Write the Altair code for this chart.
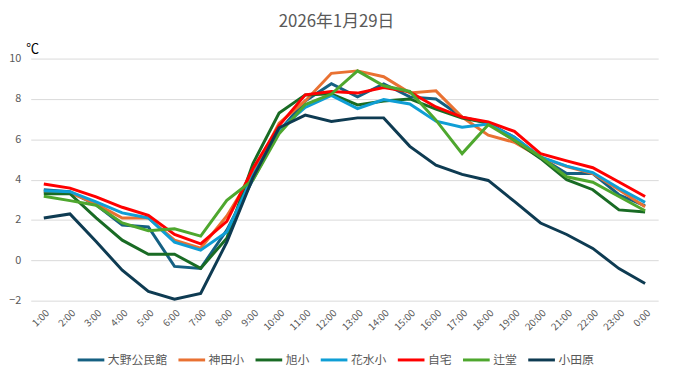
import altair as alt
import pandas as pd

hours = ["1:00", "2:00", "3:00", "4:00", "5:00", "6:00", "7:00", "8:00", "9:00", "10:00",
         "11:00", "12:00", "13:00", "14:00", "15:00", "16:00", "17:00", "18:00", "19:00",
         "20:00", "21:00", "22:00", "23:00", "0:00"]

series_names = ["大野公民館", "神田小", "旭小", "花水小", "自宅", "辻堂", "小田原"]
series_colors = ["#156082", "#E97132", "#196B24", "#0F9ED5", "#FF0000", "#4EA72E", "#0E3B52"]

ono = [3.5, 3.4, 2.75, 1.75, 1.65, -0.3, -0.4, 1.5, 4.0, 6.4, 7.9, 8.75, 8.1, 8.75, 8.1, 8.0,
       7.1, 6.8, 6.1, 5.1, 4.3, 4.3, 3.25, 2.7]
kanda = [3.4, 3.35, 2.8, 2.1, 2.1, 1.0, 0.6, 2.2, 4.3, 6.8, 7.9, 9.27, 9.39, 9.1, 8.3, 8.4,
         7.1, 6.2, 5.85, 5.1, 4.65, 4.3, 3.5, 2.65]
asahi = [3.3, 3.3, 2.1, 1.0, 0.3, 0.3, -0.4, 1.1, 4.8, 7.3, 8.2, 8.25, 7.7, 7.9, 8.0, 7.5,
         7.05, 6.8, 5.95, 5.05, 4.0, 3.5, 2.5, 2.4]
hanamizu = [3.45, 3.4, 2.9, 2.35, 2.1, 0.9, 0.5, 1.4, 4.2, 6.45, 7.58, 8.17, 7.52, 7.97, 7.75, 6.9,
            6.6, 6.75, 6.1, 5.13, 4.67, 4.35, 3.57, 2.87]
jitaku = [3.78, 3.58, 3.15, 2.63, 2.23, 1.28, 0.82, 1.93, 4.55, 6.68, 8.2, 8.37, 8.29, 8.57, 8.35, 7.6,
          7.1, 6.86, 6.39, 5.29, 4.93, 4.59, 3.88, 3.16]
tsujido = [3.18, 2.96, 2.73, 1.85, 1.47, 1.56, 1.2, 2.97, 3.98, 6.27, 7.72, 8.24, 9.39, 8.65, 8.37, 6.95,
           5.29, 6.72, 5.95, 5.13, 4.14, 3.87, 3.16, 2.46]
odawara = [2.1, 2.3, 0.93, -0.49, -1.54, -1.93, -1.64, 0.9, 4.1, 6.57, 7.2, 6.88, 7.06, 7.06, 5.65, 4.72,
           4.26, 3.96, 2.92, 1.85, 1.28, 0.59, -0.41, -1.15]

all_values = [ono, kanda, asahi, hanamizu, jitaku, tsujido, odawara]

rows = []
for idx, (name, vals) in enumerate(zip(series_names, all_values)):
    for h, v in zip(hours, vals):
        rows.append({"time": h, "temp": v, "site": name, "order": idx})
df = pd.DataFrame(rows)

FONT = "Noto Sans CJK JP"

chart = alt.Chart(df).mark_line(strokeWidth=3).encode(
    x=alt.X("time:N", sort=hours,
            scale=alt.Scale(type="point", padding=0.5),
            axis=alt.Axis(title=None, grid=False, ticks=False, domain=False,
                          labelAngle=-45, labelFontSize=10, labelColor="#595959",
                          labelPadding=7, labelOverlap=False, labelFont=FONT)),
    y=alt.Y("temp:Q",
            scale=alt.Scale(domain=[-2, 10], nice=False, zero=False),
            axis=alt.Axis(values=[-2, 0, 2, 4, 6, 8, 10], grid=True, gridColor="#d9d9d9",
                          domain=False, ticks=False, labelPadding=10, labelFontSize=11,
                          labelColor="#595959", labelFont=FONT,
                          title="℃", titleAngle=0, titleX=-5, titleY=-10,
                          titleAlign="left", titleBaseline="middle", titleFontSize=13,
                          titleFontWeight="normal", titleColor="black", titleFont=FONT)),
    color=alt.Color("site:N",
                    scale=alt.Scale(domain=series_names, range=series_colors),
                    legend=alt.Legend(title=None, orient="none", legendX=46, legendY=290,
                                      direction="horizontal", columns=7,
                                      symbolType="stroke", symbolSize=729,
                                      symbolStrokeWidth=3, labelFontSize=12,
                                      labelColor="#595959", labelOffset=2,
                                      columnPadding=4, padding=0, labelFont=FONT)),
    order=alt.Order("order:Q"),
).properties(
    width=635,
    height=245,
    autosize=alt.AutoSizeParams(type="none"),
    padding={"left": 23, "top": 49, "right": 15, "bottom": 70},
    title=alt.TitleParams("2026年1月29日", fontSize=17, fontWeight="normal",
                          color="#595959", font=FONT, anchor="middle", dx=-8, offset=12),
).configure_view(strokeWidth=0)

chart.save("out.html", embed_options={"renderer": "svg", "actions": False})
